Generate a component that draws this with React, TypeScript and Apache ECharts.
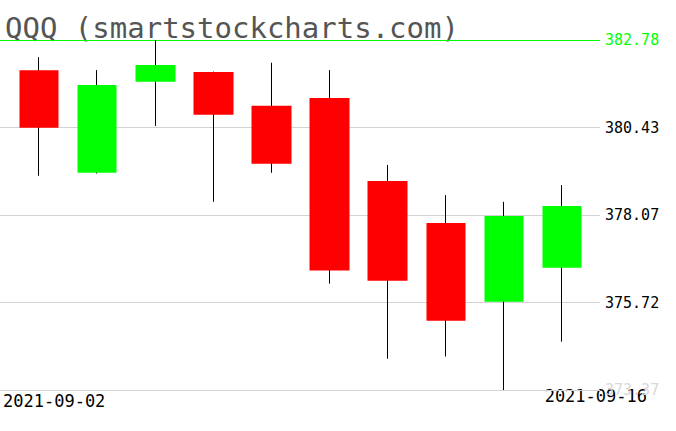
import React, { useEffect, useRef } from "react";
import * as echarts from "echarts";

const titleText = "QQQ (smartstockcharts.com)";
const dates = [
  "2021-09-02", "2021-09-03", "2021-09-07", "2021-09-08", "2021-09-09",
  "2021-09-10", "2021-09-13", "2021-09-14", "2021-09-15", "2021-09-16",
];
const opens = [381.97, 379.21, 381.66, 381.92, 381.01, 381.22, 378.99, 377.86, 375.74, 376.66];
const closes = [380.42, 381.57, 382.11, 380.77, 379.45, 376.58, 376.31, 375.23, 378.05, 378.32];
const highs = [382.32, 381.97, 382.78, 381.93, 382.17, 381.97, 379.42, 378.61, 378.43, 378.88];
const lows = [379.13, 379.19, 380.47, 378.43, 379.21, 376.23, 374.21, 374.27, 373.37, 374.67];
const yTickLabels = ["373.37", "375.72", "378.07", "380.43", "382.78"];

export default function App() {
  const ref = useRef<HTMLDivElement>(null);
  useEffect(() => {
    document.body.style.margin = "0";
    if (!ref.current) return;
    const chart = echarts.init(ref.current, null, { renderer: "svg" });
    const yVals = yTickLabels.map(Number);
    const yMin = yVals[0];
    const yMax = yVals[yVals.length - 1];
    const yInterval = (yMax - yMin) / (yVals.length - 1);
    const nearestIdx = (v: number) => {
      let best = 0;
      for (let i = 1; i < yVals.length; i++) {
        if (Math.abs(yVals[i] - v) < Math.abs(yVals[best] - v)) best = i;
      }
      return best;
    };
    const labelColors = ["#d8d8d8", "#000000", "#000000", "#000000", "#00ff00"];
    const wickData = dates.map((_, i) => [opens[i], closes[i], lows[i], highs[i]]);
    const bodyData = dates.map((_, i) => [
      opens[i], closes[i], Math.min(opens[i], closes[i]), Math.max(opens[i], closes[i]),
    ]);
    chart.setOption({
      animation: false,
      grid: [
        { left: 0, right: 76, top: 40, bottom: 41 },
        { left: 10, right: 85, top: 40, bottom: 41 },
      ],
      xAxis: [
        { type: "value", gridIndex: 0, show: false, min: 0, max: 1 },
        { type: "category", gridIndex: 1, data: dates, show: false, boundaryGap: true },
      ],
      yAxis: [
        {
          type: "value",
          gridIndex: 0,
          position: "right",
          min: yMin,
          max: yMax,
          interval: yInterval,
          axisLine: { show: false },
          axisTick: { show: false },
          splitLine: {
            show: true,
            lineStyle: {
              color: ["#d3d3d3", "#d3d3d3", "#d3d3d3", "#d3d3d3", "#00ff00", "#00ff00"],
              width: 1,
            },
          },
          axisLabel: {
            margin: 5,
            fontFamily: "DejaVu Sans Mono",
            fontSize: 15,
            verticalAlign: "middle",
            padding: [0, 0, 11, 0],
            formatter: (v: number) => yTickLabels[nearestIdx(v)],
            color: (v: number) => labelColors[nearestIdx(Number(v))],
          },
        },
        { type: "value", gridIndex: 1, min: yMin, max: yMax, show: false },
      ],
      series: [
        {
          type: "candlestick",
          xAxisIndex: 1,
          yAxisIndex: 1,
          barWidth: 1,
          data: wickData,
          itemStyle: {
            color: "#000",
            color0: "#000",
            borderColor: "#000",
            borderColor0: "#000",
            borderWidth: 1,
          },
          silent: true,
        },
        {
          type: "candlestick",
          xAxisIndex: 1,
          yAxisIndex: 1,
          barWidth: 40,
          data: bodyData,
          itemStyle: {
            color: "#00ff00",
            color0: "#ff0000",
            borderColor: "#00ff00",
            borderColor0: "#ff0000",
            borderWidth: 0,
          },
          silent: true,
        },
      ],
      graphic: [
        {
          type: "text",
          x: 5,
          y: 28,
          style: {
            text: titleText,
            font: "29px 'DejaVu Sans Mono'",
            fill: "#555",
            verticalAlign: "middle",
            align: "left",
          },
        },
        {
          type: "text",
          x: 3,
          y: 401,
          style: {
            text: dates[0],
            font: "17px 'DejaVu Sans Mono'",
            fill: "#000",
            verticalAlign: "middle",
            align: "left",
          },
        },
        {
          type: "text",
          x: 647,
          y: 396,
          style: {
            text: dates[dates.length - 1],
            font: "17px 'DejaVu Sans Mono'",
            fill: "#000",
            verticalAlign: "middle",
            align: "right",
          },
        },
      ],
    });
    return () => chart.dispose();
  }, []);
  return <div ref={ref} style={{ width: 676, height: 431 }} />;
}
